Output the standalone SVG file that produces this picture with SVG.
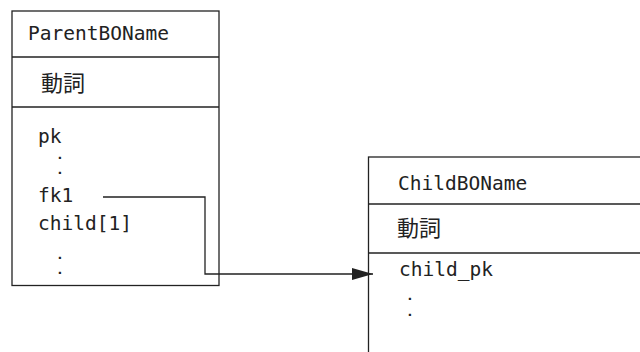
<svg xmlns="http://www.w3.org/2000/svg" width="640" height="352" viewBox="0 0 640 352">
<defs>
<style>
.box{fill:#fff;stroke:#222;stroke-width:1.3}
.div{stroke:#222;stroke-width:1.3}
.t{font-family:"DejaVu Sans Mono","Liberation Mono",monospace;font-size:19.5px;fill:#222}
.d{font-family:"DejaVu Sans Mono","Liberation Mono",monospace;font-size:13px;font-weight:bold;fill:#222}
.j{font-family:"Noto Sans CJK JP","Noto Sans CJK SC",sans-serif;font-size:22px;fill:#222}
.con{fill:none;stroke:#222;stroke-width:1.3}
</style>
<marker id="arr" markerUnits="userSpaceOnUse" markerWidth="22" markerHeight="14" refX="21" refY="6" orient="auto">
<polygon points="0,0 21,6 0,12" fill="#222"/>
</marker>
</defs>
<rect width="640" height="352" fill="#fff"/>
<g id="parent">
<rect class="box" x="12" y="11" width="207" height="274.5"/>
<line class="div" x1="12" y1="57" x2="219" y2="57"/>
<line class="div" x1="12" y1="107" x2="219" y2="107"/>
<text class="t" x="28" y="40">ParentBOName</text>
<text class="j" x="41" y="91">動詞</text>
<text class="t" x="38" y="143">pk</text>
<text class="d" x="56" y="159">.</text>
<text class="d" x="56" y="174">.</text>
<text class="t" x="38" y="202">fk1</text>
<text class="t" x="38" y="230">child[1]</text>
<text class="d" x="56" y="259">.</text>
<text class="d" x="56" y="274">.</text>
</g>
<g id="child">
<rect class="box" x="368.5" y="157" width="300" height="220"/>
<line class="div" x1="368.5" y1="204" x2="660" y2="204"/>
<line class="div" x1="368.5" y1="253" x2="660" y2="253"/>
<text class="t" x="398" y="190">ChildBOName</text>
<text class="j" x="397" y="235.5">動詞</text>
<text class="t" x="399" y="276">child_pk</text>
<text class="d" x="406" y="300">.</text>
<text class="d" x="406" y="316">.</text>
</g>
<g id="connectors">
<polyline class="con" points="103,197 205,197 205,274 373,274" marker-end="url(#arr)"/>
</g>
</svg>
